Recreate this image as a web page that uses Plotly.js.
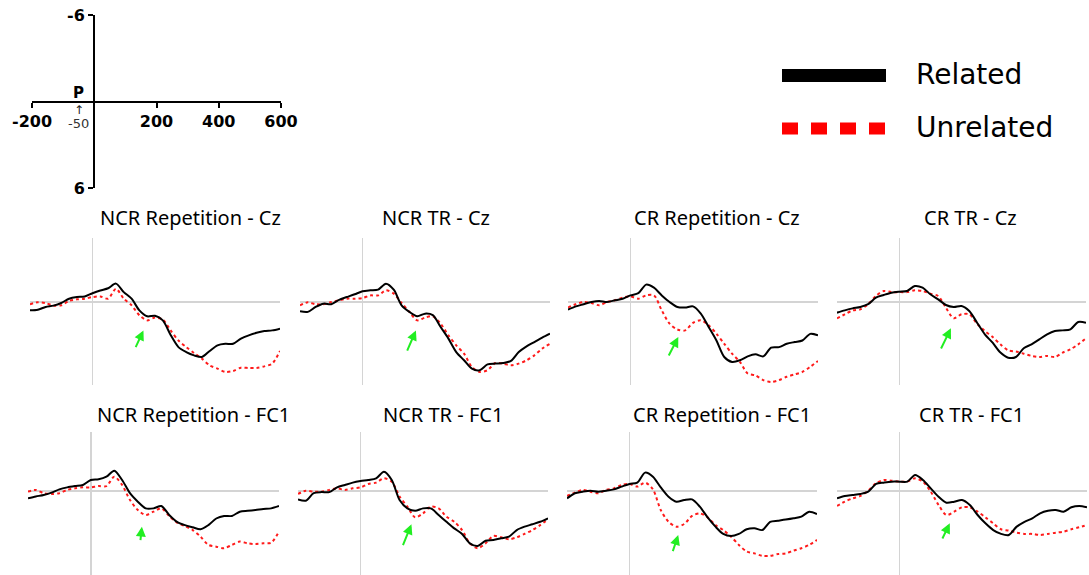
<!DOCTYPE html>
<html>
<head>
<meta charset="utf-8">
<script src="https://cdn.plot.ly/plotly-3.0.1.min.js"></script>
<style>html,body{margin:0;padding:0;background:#fff;}#chart{width:1089px;height:575px;}</style>
</head>
<body>
<div id="chart"></div>
<script>
// ---- data (ms, µV; negative plotted upward) ----
const times = [-200,-175,-150,-125,-100,-75,-50,-25,0,25,50,75,100,125,150,175,200,225,250,275,300,325,350,375,400,425,450,475,500,525,550,575,600];

const panelTitles = ["NCR Repetition - Cz","NCR TR - Cz","CR Repetition - Cz","CR TR - Cz",
                     "NCR Repetition - FC1","NCR TR - FC1","CR Repetition - FC1","CR TR - FC1"];
const seriesNames = ["Related","Unrelated"];

const ncrRepCz_rel = [0.76,0.7,0.45,0.33,0.09,-0.3,-0.45,-0.5,-0.8,-1.05,-1.25,-1.67,-0.9,-0.3,0.76,1.3,1.25,1.67,3.0,4.1,4.55,4.85,5.0,4.45,3.94,3.8,3.8,3.33,3.03,2.8,2.64,2.58,2.42];
const ncrRepCz_unr = [0.2,0.03,0.1,0.33,0.3,-0.1,-0.24,-0.3,-0.45,-0.5,-0.3,-1.2,-0.3,0.3,1.2,1.67,1.42,1.6,2.58,3.5,4.1,4.64,5.15,5.76,6.06,6.36,6.27,5.97,6.0,6.0,5.85,5.6,4.45];

const ncrTrCz_rel = [0.85,0.9,0.45,0.15,0.2,-0.2,-0.45,-0.7,-0.97,-1.06,-1.12,-1.67,-1.12,0.3,0.9,1.3,1.06,1.2,2.27,3.33,4.55,5.3,6.06,6.2,5.67,5.6,5.55,5.36,4.55,4.03,3.64,3.24,2.88];
const ncrTrCz_unr = [0.3,0.03,0.2,0.2,0.0,-0.15,-0.3,-0.3,-0.36,-0.6,-0.6,-1.06,-0.76,0.09,0.9,1.67,1.42,1.3,1.97,3.03,3.94,4.7,5.9,6.36,6.2,5.55,5.6,5.76,5.6,5.3,4.85,4.24,3.8];

const crRepCz_rel = [0.7,0.4,0.2,0.0,-0.1,0.0,-0.15,-0.3,-0.6,-0.8,-1.58,-1.3,-0.6,0.0,0.45,0.5,0.4,1.06,2.27,3.5,5.0,5.45,5.3,4.94,4.76,4.94,4.15,4.1,3.8,3.64,3.5,2.9,3.03];
const crRepCz_unr = [0.5,0.2,0.0,0.1,0.3,0.0,-0.15,-0.4,-0.5,-0.3,-0.6,-0.6,0.76,1.97,2.5,2.58,1.9,1.67,2.12,2.88,3.8,4.7,5.45,6.5,6.67,7.1,7.27,7.1,6.8,6.58,6.36,5.9,5.36];

const crTrCz_rel = [0.97,0.76,0.58,0.45,0.2,-0.4,-0.64,-0.85,-0.94,-1.0,-1.45,-1.3,-0.7,-0.24,0.27,0.45,0.36,0.82,1.88,2.94,3.7,4.6,5.06,5.0,4.2,3.85,3.4,2.94,2.64,2.58,2.48,1.82,1.88];
const crTrCz_unr = [1.48,1.12,0.76,0.67,0.2,-0.55,-1.0,-0.9,-0.9,-0.9,-1.06,-1.0,-0.76,-0.55,0.52,1.48,1.12,1.12,1.97,2.64,3.18,3.85,4.4,4.5,4.7,4.9,5.0,4.9,5.0,4.6,4.3,3.85,3.3];

const ncrRepFc1_rel = [0.67,0.5,0.36,0.15,-0.15,-0.33,-0.45,-0.55,-1.0,-1.06,-1.3,-1.85,-1.0,0.2,0.97,1.58,1.58,1.36,2.18,2.8,3.1,3.3,3.48,3.1,2.5,2.27,2.27,1.88,1.8,1.73,1.64,1.58,1.36];
const ncrRepFc1_unr = [0.06,-0.1,0.2,0.27,0.2,-0.1,-0.24,-0.33,-0.33,-0.45,-0.45,-1.3,-0.55,0.82,1.73,2.18,1.88,1.58,2.27,2.88,3.18,3.55,4.15,4.9,5.06,5.2,4.9,4.6,4.76,4.82,4.76,4.7,3.7];

const ncrTrFc1_rel = [0.76,0.88,0.2,0.1,0.1,-0.33,-0.55,-0.76,-0.9,-1.0,-1.15,-1.75,-1.0,0.82,1.58,1.8,1.58,1.58,2.18,2.8,3.4,3.9,4.76,5.0,4.52,4.45,4.3,4.15,3.55,3.24,3.03,2.8,2.48];
const ncrTrFc1_unr = [0.27,-0.03,0.06,0.06,-0.1,-0.24,-0.1,-0.24,-0.33,-0.64,-0.76,-1.15,-0.85,0.5,1.42,2.4,2.03,1.42,1.58,2.33,2.8,3.55,4.76,5.2,4.76,4.09,4.21,4.39,4.21,3.9,3.55,3.1,2.58];

const crRepFc1_rel = [0.67,0.2,0.06,-0.03,0.06,-0.03,-0.15,-0.4,-0.64,-0.76,-1.67,-1.3,-0.33,0.52,0.97,0.82,0.76,1.42,2.4,3.24,3.9,4.09,3.9,3.48,3.39,3.55,2.8,2.7,2.6,2.48,2.33,1.88,2.1];
const crRepFc1_unr = [0.45,0.15,-0.1,0.06,0.2,-0.1,-0.24,-0.55,-0.64,-0.4,-0.76,-0.15,1.73,2.8,3.24,3.0,2.27,2.03,2.4,3.1,3.55,4.15,4.9,5.5,5.67,5.9,5.9,5.73,5.67,5.42,5.2,4.9,4.45];

const crTrFc1_rel = [0.67,0.45,0.36,0.27,0.06,-0.64,-0.76,-0.85,-0.85,-0.85,-1.45,-1.0,-0.24,0.52,1.06,0.97,0.82,1.27,2.18,2.94,3.55,3.9,4.0,3.24,2.8,2.48,2.03,1.8,1.73,1.88,1.48,1.36,1.48];
const crTrFc1_unr = [1.36,0.97,0.67,0.45,-0.03,-0.7,-1.0,-0.94,-0.85,-0.85,-1.15,-0.85,0.06,1.27,2.18,1.88,1.48,1.48,1.88,2.4,2.94,3.48,3.6,3.79,3.9,3.9,4.0,3.9,3.79,3.7,3.48,3.3,3.1];

// green arrows: [headMs, headUv, tailMs, tailUv]
const arrowPts = [[163,2.58,136,4.24],[171,2.58,141,4.55],[153,3.18,120,5.0],[166,2.39,132,4.36],
                  [163,3.24,158,4.6],[163,3.03,134,5.06],[156,4.0,137,5.6],[161,2.94,135,4.45]];

// scale diagram labels
const scaleXTicks = [-200,200,400,600];
const scaleYTicks = [-6,6];
const scaleMarker = -50;

const relatedSeries = [ncrRepCz_rel,ncrTrCz_rel,crRepCz_rel,crTrCz_rel,ncrRepFc1_rel,ncrTrFc1_rel,crRepFc1_rel,crTrFc1_rel];
const unrelatedSeries = [ncrRepCz_unr,ncrTrCz_unr,crRepCz_unr,crTrCz_unr,ncrRepFc1_unr,ncrTrFc1_unr,crRepFc1_unr,crTrFc1_unr];

// ---- layout geometry (pixels) ----
const W = 1089, H = 575;
const px = [[30,280],[300,550],[568,818],[837,1086],[28,279],[298,548],[567,817],[837,1087]];
const rowY = [{top:238,bottom:385,zero:302},{top:432,bottom:575,zero:491}];
const pxPerUv = 11;
const titleX = [191,436,717,970,193,443,722,971];
const titleY = [217,414];

const traces = [];
const layout = {
  width: W, height: H,
  margin: {l:0,r:0,t:0,b:0},
  paper_bgcolor: '#ffffff', plot_bgcolor: 'rgba(0,0,0,0)',
  showlegend: false,
  font: {family: 'DejaVu Sans', color: '#000'},
  annotations: [], shapes: []
};

for (let i = 0; i < 8; i++) {
  const k = i + 1;
  const xa = k === 1 ? 'x' : 'x' + k, ya = k === 1 ? 'y' : 'y' + k;
  const row = rowY[i < 4 ? 0 : 1];
  layout['xaxis' + k] = {
    domain: [px[i][0]/W, px[i][1]/W], range: [-200, 600], anchor: ya,
    showgrid: false, showticklabels: false, ticks: '', showline: false,
    zeroline: true, zerolinecolor: '#d4d4d4', zerolinewidth: 1.5, fixedrange: true
  };
  layout['yaxis' + k] = {
    domain: [1 - row.bottom/H, 1 - row.top/H],
    range: [(row.bottom - row.zero)/pxPerUv, -(row.zero - row.top)/pxPerUv], anchor: xa,
    showgrid: false, showticklabels: false, ticks: '', showline: false,
    zeroline: true, zerolinecolor: '#d4d4d4', zerolinewidth: 1.5, fixedrange: true
  };
  traces.push({
    x: times, y: unrelatedSeries[i], xaxis: xa, yaxis: ya, type: 'scatter', mode: 'lines',
    name: seriesNames[1], line: {color: '#ff1a1a', width: 2, dash: 'dot', shape: 'spline', smoothing: 0.8},
    hoverinfo: 'skip'
  });
  traces.push({
    x: times, y: relatedSeries[i], xaxis: xa, yaxis: ya, type: 'scatter', mode: 'lines',
    name: seriesNames[0], line: {color: '#000000', width: 2, shape: 'spline', smoothing: 0.8},
    hoverinfo: 'skip'
  });
  layout.annotations.push({
    xref: 'paper', yref: 'paper', x: titleX[i]/W, y: 1 - titleY[i < 4 ? 0 : 1]/H,
    xanchor: 'center', yanchor: 'middle', showarrow: false, text: panelTitles[i],
    font: {family: 'Noto Sans', size: 20, color: '#000'}
  });
  const a = arrowPts[i];
  layout.annotations.push({
    xref: xa, yref: ya, axref: xa, ayref: ya, x: a[0], y: a[1], ax: a[2], ay: a[3],
    text: '', showarrow: true, arrowhead: 2, arrowsize: 1, arrowwidth: 2, arrowcolor: '#22ee22'
  });
}

// ---- scale diagram (axis pair 9) ----
traces.push({x: [null], y: [null], xaxis: 'x9', yaxis: 'y9', type: 'scatter', mode: 'lines', hoverinfo: 'skip', showlegend: false});
layout.xaxis9 = {
  domain: [32/W, 281/W], range: [-200, 600], anchor: 'free', position: 1 - 101.5/H,
  showline: true, linecolor: '#000', linewidth: 2, showgrid: false, zeroline: false,
  ticks: 'outside', ticklen: 5, tickwidth: 2, tickcolor: '#000',
  tickvals: scaleXTicks, ticktext: scaleXTicks.map(String),
  tickfont: {family: 'DejaVu Sans', size: 16, weight: 'bold', color: '#000'}, fixedrange: true
};
layout.yaxis9 = {
  domain: [1 - 188/H, 1 - 15/H], range: [6, -6], anchor: 'free', position: 94/W,
  showline: true, linecolor: '#000', linewidth: 2, showgrid: false, zeroline: false,
  ticks: 'outside', ticklen: 5, tickwidth: 2, tickcolor: '#000',
  tickvals: scaleYTicks, ticktext: scaleYTicks.map(String),
  tickfont: {family: 'DejaVu Sans', size: 16, weight: 'bold', color: '#000'}, fixedrange: true
};
layout.annotations.push({xref: 'x9', yref: 'y9', x: scaleMarker, y: 0, yanchor: 'bottom', xanchor: 'center', yshift: -3,
  showarrow: false, text: '<b>P</b>', font: {family: 'DejaVu Sans', size: 15, color: '#000'}});
layout.annotations.push({xref: 'x9', yref: 'y9', x: scaleMarker, y: 0, yanchor: 'top', xanchor: 'center', yshift: 0,
  showarrow: false, text: '↑', font: {family: 'DejaVu Sans', size: 12, color: '#222'}});
layout.annotations.push({xref: 'x9', yref: 'y9', x: scaleMarker, y: 0, yanchor: 'top', xanchor: 'center', yshift: -13,
  showarrow: false, text: String(scaleMarker), font: {family: 'DejaVu Sans', size: 13, color: '#333'}});

// ---- legend (drawn) ----
layout.shapes.push({type: 'line', xref: 'paper', yref: 'paper', x0: 782/W, x1: 886/W, y0: 1 - 75.5/H, y1: 1 - 75.5/H,
  line: {color: '#000', width: 13}});
layout.shapes.push({type: 'line', xref: 'paper', yref: 'paper', x0: 782/W, x1: 886/W, y0: 1 - 128.5/H, y1: 1 - 128.5/H,
  line: {color: '#ff0000', width: 12, dash: '16px,13px'}});
layout.annotations.push({xref: 'paper', yref: 'paper', x: 914/W, y: 1 - 74/H, xanchor: 'left', yanchor: 'middle',
  showarrow: false, text: seriesNames[0], font: {family: 'DejaVu Sans', size: 28, color: '#000'}});
layout.annotations.push({xref: 'paper', yref: 'paper', x: 914/W, y: 1 - 127/H, xanchor: 'left', yanchor: 'middle',
  showarrow: false, text: seriesNames[1], font: {family: 'DejaVu Sans', size: 28, color: '#000'}});

Plotly.newPlot('chart', traces, layout, {staticPlot: true, displayModeBar: false});
</script>
</body>
</html>
